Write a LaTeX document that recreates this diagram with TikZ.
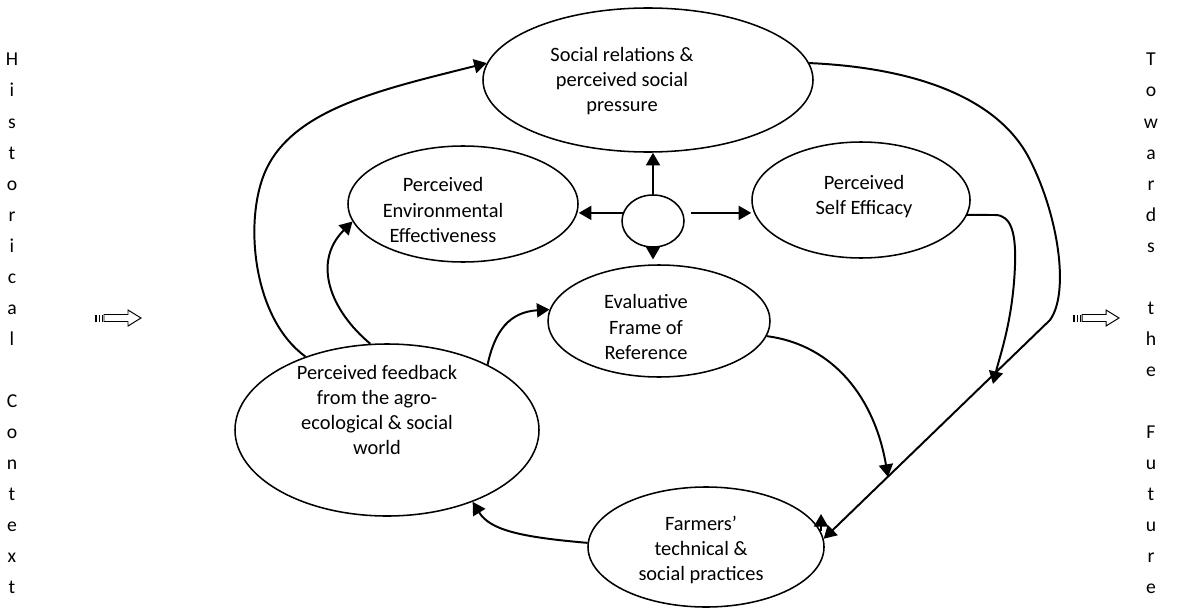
\documentclass[tikz,border=0pt]{standalone}
\usepackage{fontspec}
\setmainfont{Carlito}
\usetikzlibrary{arrows.meta,shapes.geometric}
\begin{document}
\begin{tikzpicture}[x=0.025cm,y=-0.025cm,
  oval/.style 2 args={draw,ellipse,line width=1.1pt,inner sep=0pt,
    minimum width=#1*0.025cm,minimum height=#2*0.025cm},
  lbl/.style={align=center,inner sep=0pt,font=\fontsize{14.5}{17.8}\selectfont},
  conn/.style={line width=1.4pt,-{Triangle[length=9pt,width=10pt]}},
  letter/.style={anchor=base,inner sep=0pt,font=\fontsize{14}{16}\selectfont},
  blockarrow/.pic={
    \draw[line width=0.7pt] (9,-3.5) -- (33,-3.5) -- (33,-8) -- (46,0) -- (33,8) -- (33,3.5) -- (9,3.5) -- cycle;
    \fill (0,-3.5) rectangle (2,3.5);
    \fill (3.5,-3.5) rectangle (5,3.5);
    \fill (6.5,-3.5) rectangle (8,3.5);
  }]
\useasboundingbox (0,0) rectangle (1188,611);

% ellipses
\node[oval={330}{144}] (soc) at (648,80) {};
\node[oval={230}{116}] (env) at (463,204) {};
\node[oval={218}{116}] (eff) at (861,200) {};
\node[oval={62}{52}] (hub) at (653,221) {};
\node[oval={222}{112}] (eval) at (659,321) {};
\node[oval={304}{172}] (fb) at (387,430) {};
\node[oval={236}{120}] (farm) at (706,547) {};

% texts
\node[lbl] (socT) at (622,81) {Social relations \&\\perceived social\\pressure};
\node[lbl] (envT) at (443,210) {Perceived\\Environmental\\Effectiveness};
\node[lbl] (effT) at (864,197) {Perceived\\Self Efficacy};
\node[lbl] (evalT) at (646,327) {Evaluative\\Frame of\\Reference};
\node[lbl] (fbT) at (377,410) {Perceived feedback\\from the agro-\\ecological \& social\\world};
\node[lbl] (farmT) at (701,550) {Farmers’\\technical \&\\social practices};

% coordinates for free ends
\coordinate (eTip) at (888,477);
\coordinate (sTip) at (993,384);
\coordinate (bend) at (1050,320);
\coordinate (st1) at (821,531);
\coordinate (st2) at (821,514);

% hub arrows
\draw[conn] (hub.north) -- (hub.north |- soc.south);
\draw[conn] (hub.165) -- (hub.165 -| env.east);
\draw[conn] ([xshift=0.2cm]hub.15) -- (hub.15 -| eff.west);
\draw[conn] (hub.south) -- ([yshift=0.12cm]hub.south |- eval.north);

% curves
\draw[conn] (fb.138) .. controls (255,320) and (245,230) .. (262,180)
  .. controls (285,110) and (380,90) .. (soc.174);
\draw[conn] (fb.101) .. controls (330,310) and (312,262) .. (env.189);
\draw[conn] (fb.33) .. controls (495,330) and (510,312) .. (eval.174);
\draw[conn] (eval.-8) .. controls (835,345) and (875,400) .. (eTip);
\draw[conn] (soc.6) .. controls (920,68) and (1000,100) .. (1030,160)
  .. controls (1058,215) and (1070,292) .. (bend) -- (farm.4);
\draw[conn] (eff.-8) -- (995,215) .. controls (1012,215) and (1016,235) .. (1015,265)
  .. controls (1013,320) and (1000,355) .. (sTip);
\draw[conn] (farm.178) .. controls (520,537) and (490,530) .. (fb.-40);
\draw[conn] (st1) -- (st2);

% block arrows
\pic at (95,318) {blockarrow};
\pic at (1073,318) {blockarrow};

% vertical texts
\foreach \ch [count=\i from 0] in {H,i,s,t,o,r,i,c,a,l,{},C,o,n,t,e,x,t}
  \node[letter] (hc\i) at (12,66+31*\i) {\ch};
\foreach \ch [count=\i from 0] in {T,o,w,a,r,d,s,{},t,h,e,{},F,u,t,u,r,e}
  \node[letter] (tf\i) at (1151,66+31*\i) {\ch};
\end{tikzpicture}
\end{document}
